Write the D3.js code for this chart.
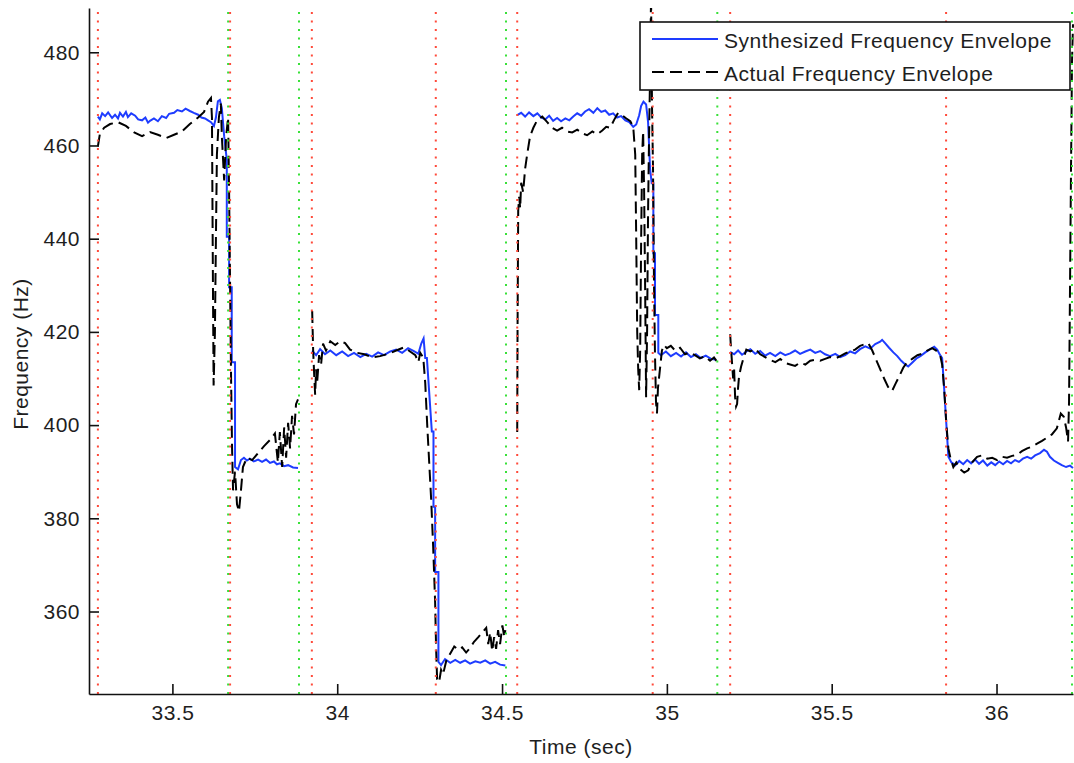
<!DOCTYPE html>
<html>
<head>
<meta charset="utf-8">
<script src="https://cdn.jsdelivr.net/npm/d3@7"></script>
<style>
  body { margin: 0; background: #fff; }
  text { font-family: "Liberation Sans", Arial, sans-serif; font-size: 21px; fill: #1e1e1e; letter-spacing: 0.5px; }
</style>
</head>
<body>
<script>
// axis ticks
var xTicks = [33.5, 34, 34.5, 35, 35.5, 36];
var xTickLabels = ["33.5", "34", "34.5", "35", "35.5", "36"];
var yTicks = [360, 380, 400, 420, 440, 460, 480];
var xDomain = [33.247, 36.232];
var yDomain = [342.3, 489.5];

// note boundaries (sec)
var onsets = [33.274, 33.675, 33.923, 34.299, 34.546, 34.957, 35.192, 35.847];
var offsets = [33.669, 33.884, 34.512, 35.153, 36.229];

// synthesized envelope, [time, Hz], one array per note group
var synth1 = [[33.274,466.2],[33.280,465.6],[33.287,466.9],[33.296,466.3],[33.305,467.1],[33.317,465.9],[33.326,466.6],
  [33.335,465.8],[33.341,467.0],[33.350,466.2],[33.359,467.2],[33.365,466.1],[33.375,466.9],[33.387,466.4],[33.396,465.6],
  [33.408,465.4],[33.418,466.0],[33.426,464.9],[33.432,465.3],[33.444,465.8],[33.456,465.2],[33.468,466.3],[33.481,465.9],
  [33.490,466.8],[33.505,467.0],[33.515,467.6],[33.529,467.3],[33.540,467.9],[33.553,467.4],[33.565,467.0],[33.578,466.6],
  [33.588,466.0],[33.599,465.8],[33.608,465.4],[33.617,465.0],[33.626,464.2],[33.632,466.0],[33.638,469.5],[33.644,469.8],
  [33.650,468.0],[33.657,462.0],[33.665,456.9],[33.665,440.4],[33.672,440.4],[33.672,429.6],[33.680,429.6],[33.680,413.5],
  [33.690,413.5],[33.690,391.0],[33.699,390.5],[33.708,392.5],[33.717,393.0],[33.726,392.4],[33.735,392.8],[33.747,392.2],
  [33.760,392.6],[33.772,392.1],[33.784,392.6],[33.796,391.9],[33.808,392.2],[33.817,391.6],[33.826,391.8],[33.839,391.2],
  [33.851,391.4],[33.866,390.9],[33.881,390.8]];
var synth2 = [[33.924,416.0],[33.936,415.0],[33.948,416.3],[33.963,415.2],[33.979,416.0],[33.997,415.0],[34.015,415.8],
  [34.033,414.8],[34.051,415.5],[34.070,414.6],[34.088,415.3],[34.106,414.7],[34.124,415.6],[34.142,415.0],[34.161,415.8],
  [34.179,416.2],[34.197,415.5],[34.215,416.5],[34.234,415.8],[34.246,415.3],[34.255,417.5],[34.262,418.6],[34.267,414.4],
  [34.272,414.4],[34.287,398.6],[34.292,398.6],[34.292,382.5],[34.297,382.5],[34.297,368.5],[34.307,368.5],[34.307,349.2],
  [34.315,348.5],[34.327,349.8],[34.343,349.0],[34.358,349.6],[34.373,349.0],[34.388,349.5],[34.403,348.8],[34.419,349.3],
  [34.434,349.0],[34.449,349.5],[34.464,348.8],[34.479,349.2],[34.494,348.6],[34.510,348.4]];
var synth3 = [[34.546,466.5],[34.558,467.0],[34.570,466.2],[34.582,467.1],[34.595,466.3],[34.607,466.9],[34.619,466.0],
  [34.631,465.6],[34.643,466.4],[34.655,465.3],[34.667,465.9],[34.679,465.2],[34.692,465.8],[34.704,465.4],[34.716,466.2],
  [34.728,466.9],[34.740,466.4],[34.752,467.3],[34.764,467.8],[34.777,467.0],[34.789,468.0],[34.801,467.2],[34.813,467.5],
  [34.825,466.6],[34.837,466.9],[34.849,466.0],[34.861,466.3],[34.874,465.4],[34.886,465.0],[34.898,464.0],[34.907,464.5],
  [34.916,466.5],[34.922,468.5],[34.929,469.4],[34.937,468.8],[34.943,465.0],[34.949,455.0],[34.954,451.9],[34.959,451.9],
  [34.959,436.9],[34.964,436.9],[34.964,423.6],[34.974,423.6],[34.974,415.5],[34.982,415.0],[34.997,415.8],[35.012,414.8],
  [35.028,415.5],[35.043,414.7],[35.058,415.6],[35.073,414.6],[35.088,415.2],[35.103,414.4],[35.118,414.9],[35.134,414.2],
  [35.149,414.0]];
var synth4 = [[35.192,415.7],[35.204,415.2],[35.216,416.0],[35.228,415.1],[35.241,415.8],[35.253,416.3],[35.268,415.3],
  [35.283,415.9],[35.298,414.9],[35.313,415.5],[35.329,414.8],[35.344,415.6],[35.359,415.0],[35.374,415.4],[35.389,416.0],
  [35.404,415.3],[35.420,415.8],[35.435,416.2],[35.450,415.5],[35.465,415.9],[35.480,415.2],[35.495,414.8],[35.511,415.3],
  [35.526,414.6],[35.541,415.0],[35.556,415.8],[35.571,415.4],[35.586,416.3],[35.602,416.9],[35.617,416.4],[35.632,417.4],
  [35.647,417.9],[35.653,418.3],[35.662,417.6],[35.674,416.6],[35.687,415.6],[35.699,414.8],[35.711,413.8],[35.723,413.0],
  [35.732,412.6],[35.744,413.4],[35.757,414.3],[35.769,414.8],[35.784,415.6],[35.799,416.3],[35.811,416.8],[35.820,416.2],
  [35.829,415.0],[35.835,414.4],[35.841,408.0],[35.848,400.0],[35.854,393.2],[35.863,392.0],[35.875,391.4],[35.887,392.3],
  [35.899,391.6],[35.911,392.5],[35.923,391.8],[35.935,392.6],[35.947,391.7],[35.959,392.4],[35.972,391.3],[35.984,392.0],
  [35.996,391.4],[36.008,392.2],[36.020,391.6],[36.032,392.3],[36.044,391.8],[36.056,392.5],[36.068,392.1],[36.080,392.8],
  [36.093,393.2],[36.105,392.8],[36.117,393.5],[36.132,394.0],[36.144,394.7],[36.153,394.3],[36.162,393.2],[36.174,392.4],
  [36.186,391.9],[36.198,391.4],[36.211,391.0],[36.223,391.3],[36.232,390.8]];

// actual envelope, [time, Hz]
var actual1 = [[33.274,459.8],[33.280,462.5],[33.293,463.8],[33.311,464.6],[33.335,465.0],[33.359,464.2],[33.384,462.8],
  [33.408,462.0],[33.432,462.9],[33.456,462.3],[33.481,461.6],[33.505,462.3],[33.529,463.0],[33.553,464.6],[33.578,466.0],
  [33.596,467.2],[33.608,469.4],[33.617,470.2],[33.620,466.0],[33.623,430.0],[33.625,408.5],[33.629,420.0],[33.632,440.0],
  [33.635,458.0],[33.641,466.0],[33.647,469.0],[33.650,462.0],[33.657,452.5],[33.663,462.0],[33.669,466.0],[33.672,450.0],
  [33.675,430.0],[33.678,410.0],[33.681,395.0],[33.684,386.0],[33.690,390.0],[33.696,383.0],[33.702,381.5],[33.708,386.0],
  [33.714,391.0],[33.726,393.0],[33.742,392.5],[33.760,394.0],[33.778,395.5],[33.796,396.8],[33.811,398.2],[33.820,392.0],
  [33.826,398.5],[33.833,391.0],[33.839,399.5],[33.845,393.0],[33.851,400.5],[33.857,395.0],[33.863,402.0],[33.869,398.0],
  [33.875,404.5],[33.881,405.5]];
var actual2 = [[33.924,424.5],[33.927,416.0],[33.930,411.0],[33.933,406.5],[33.936,412.0],[33.939,409.0],[33.945,415.0],
  [33.951,413.0],[33.957,417.5],[33.966,416.0],[33.979,418.0],[33.994,417.2],[34.009,418.0],[34.024,417.6],[34.039,416.2],
  [34.061,415.5],[34.082,415.2],[34.106,414.5],[34.130,414.8],[34.155,415.3],[34.179,416.0],[34.203,416.7],[34.221,415.8],
  [34.237,415.0],[34.246,413.5],[34.252,415.5],[34.261,414.5],[34.267,409.0],[34.273,400.0],[34.279,392.0],[34.285,384.0],
  [34.291,374.0],[34.297,362.0],[34.300,352.0],[34.303,345.5],[34.309,344.8],[34.315,347.5],[34.321,346.5],[34.331,349.5],
  [34.343,351.0],[34.355,352.5],[34.367,351.8],[34.379,352.3],[34.391,351.2],[34.403,352.2],[34.415,353.5],[34.428,354.5],
  [34.440,355.5],[34.452,356.5],[34.458,353.0],[34.464,355.5],[34.470,351.5],[34.476,354.5],[34.482,352.0],[34.488,356.0],
  [34.494,353.0],[34.501,357.0],[34.507,354.5],[34.510,356.0]];
var actual3 = [[34.546,398.5],[34.547,420.0],[34.549,446.0],[34.552,449.0],[34.555,446.5],[34.558,452.0],[34.564,450.0],
  [34.570,455.0],[34.576,458.0],[34.585,462.0],[34.595,463.8],[34.607,465.5],[34.622,466.2],[34.637,465.0],[34.652,463.8],
  [34.667,463.2],[34.682,463.8],[34.698,463.0],[34.713,462.8],[34.728,463.4],[34.743,462.6],[34.758,462.2],[34.774,463.0],
  [34.789,462.4],[34.804,463.2],[34.816,464.0],[34.828,463.8],[34.840,465.5],[34.852,467.0],[34.864,466.5],[34.877,465.8],
  [34.889,465.2],[34.898,464.0],[34.904,458.0],[34.907,440.0],[34.910,420.0],[34.913,412.0],[34.916,407.5],[34.919,416.0],
  [34.922,440.0],[34.925,458.0],[34.928,463.0],[34.931,450.0],[34.934,430.0],[34.937,406.0],[34.940,420.0],[34.943,446.0],
  [34.946,462.0],[34.949,475.0],[34.952,492.0],[34.955,468.0],[34.958,455.0],[34.961,430.0],[34.964,415.0],[34.967,405.0],
  [34.970,402.5],[34.973,408.0],[34.979,412.0],[34.985,416.0],[34.991,417.2],[35.000,416.5],[35.012,417.0],[35.025,416.0],
  [35.040,416.6],[35.055,415.2],[35.070,415.6],[35.085,415.0],[35.100,414.3],[35.115,414.8],[35.131,413.8],[35.143,414.5],
  [35.152,413.6]];
var actual4 = [[35.192,419.5],[35.195,416.0],[35.198,413.0],[35.201,410.0],[35.204,412.0],[35.207,406.0],[35.210,404.0],
  [35.213,404.5],[35.216,408.0],[35.219,410.5],[35.225,412.5],[35.231,414.0],[35.241,416.2],[35.253,415.8],[35.268,416.4],
  [35.283,415.2],[35.298,414.6],[35.313,414.0],[35.329,413.5],[35.344,414.2],[35.359,413.3],[35.374,413.0],[35.389,412.7],
  [35.404,413.4],[35.420,413.0],[35.435,413.8],[35.450,414.0],[35.465,413.8],[35.480,414.2],[35.495,414.6],[35.511,414.3],
  [35.526,414.8],[35.541,415.4],[35.556,415.8],[35.571,416.2],[35.586,417.0],[35.602,417.4],[35.611,417.6],[35.623,416.0],
  [35.635,414.0],[35.647,412.0],[35.659,410.0],[35.671,408.2],[35.683,407.3],[35.693,408.8],[35.705,410.5],[35.717,412.3],
  [35.729,413.5],[35.744,414.2],[35.760,415.0],[35.775,415.3],[35.790,416.0],[35.805,416.5],[35.817,416.0],[35.829,415.0],
  [35.835,413.0],[35.841,408.0],[35.848,400.0],[35.854,395.0],[35.860,393.0],[35.869,391.0],[35.878,392.0],[35.890,390.5],
  [35.902,389.8],[35.914,390.3],[35.926,392.0],[35.941,393.2],[35.956,393.5],[35.972,392.8],[35.987,393.0],[36.002,392.5],
  [36.017,393.2],[36.032,393.0],[36.047,393.4],[36.062,393.6],[36.077,394.4],[36.093,395.0],[36.108,395.4],[36.123,396.0],
  [36.138,396.6],[36.153,397.3],[36.168,398.0],[36.183,399.3],[36.195,402.5],[36.204,401.8],[36.211,399.5],[36.217,396.5],
  [36.220,405.0],[36.223,430.0],[36.226,455.0],[36.229,478.0],[36.232,486.0]];

var synth = [synth1, synth2, synth3, synth4];
var actual = [actual1, actual2, actual3, actual4];

var width = 1074;
var height = 763;
var margin = {left: 89, top: 8, right: 1, bottom: 69};

var x = d3.scaleLinear().domain(xDomain).range([margin.left, width - margin.right]);
var y = d3.scaleLinear().domain(yDomain).range([height - margin.bottom, margin.top]);

var svg = d3.select("body").append("svg")
  .attr("width", width)
  .attr("height", height);

svg.append("rect").attr("width", width).attr("height", height).attr("fill", "#fff");

svg.append("clipPath").attr("id", "plot")
  .append("rect")
  .attr("x", margin.left)
  .attr("y", margin.top)
  .attr("width", width - margin.left - margin.right + 1)
  .attr("height", height - margin.top - margin.bottom);

var line = d3.line()
  .x(function(d) { return x(d[0]); })
  .y(function(d) { return y(d[1]); });

var plot = svg.append("g").attr("clip-path", "url(#plot)");

plot.selectAll(".synth")
  .data(synth)
  .enter()
  .append("path")
  .attr("class", "synth")
  .attr("d", line)
  .attr("fill", "none")
  .attr("stroke", "#1e3cff")
  .attr("stroke-width", 2);

plot.selectAll(".actual")
  .data(actual)
  .enter()
  .append("path")
  .attr("class", "actual")
  .attr("d", line)
  .attr("fill", "none")
  .attr("stroke", "#000")
  .attr("stroke-width", 2)
  .attr("stroke-dasharray", "12,6");

// dotted note markers
function markers(times, colour) {
  plot.selectAll(null)
    .data(times)
    .enter()
    .append("line")
    .attr("x1", function(d) { return x(d); })
    .attr("x2", function(d) { return x(d); })
    .attr("y1", margin.top + 4)
    .attr("y2", height - margin.bottom)
    .attr("stroke", colour)
    .attr("stroke-width", 2)
    .attr("stroke-dasharray", "2,6.5");
}
markers(offsets, "#38e038");
markers(onsets, "#ff4a3a");

// axes
var axisBottom = d3.axisBottom(x)
  .tickValues(xTicks)
  .tickFormat(function(d, i) { return xTickLabels[i]; })
  .tickSizeInner(-10)
  .tickSizeOuter(0)
  .tickPadding(11);

var axisLeft = d3.axisLeft(y)
  .tickValues(yTicks)
  .tickSizeInner(-10)
  .tickSizeOuter(0)
  .tickPadding(9);

var gx = svg.append("g")
  .attr("transform", "translate(0," + (height - margin.bottom) + ")")
  .call(axisBottom);

var gy = svg.append("g")
  .attr("transform", "translate(" + margin.left + ",0)")
  .call(axisLeft);

[gx, gy].forEach(function(g) {
  g.attr("font-size", null).attr("font-family", null);
  g.selectAll("path, line").attr("stroke", "#111").attr("stroke-width", 1.6);
  g.selectAll("text").attr("fill", "#1e1e1e");
});

// axis titles
svg.append("text")
  .attr("x", (margin.left + width - margin.right) / 2)
  .attr("y", 754)
  .style("text-anchor", "middle")
  .text("Time (sec)");

svg.append("text")
  .attr("transform", "translate(28,354) rotate(-90)")
  .style("text-anchor", "middle")
  .text("Frequency (Hz)");

// legend
var legend = svg.append("g");
legend.append("rect")
  .attr("x", 640).attr("y", 22)
  .attr("width", 430).attr("height", 68)
  .attr("fill", "#fff")
  .attr("stroke", "#111")
  .attr("stroke-width", 1.6);

var legendItems = [
  {label: "Synthesized Frequency Envelope", colour: "#1e3cff", dash: null},
  {label: "Actual Frequency Envelope", colour: "#000", dash: "12,6"}
];

legendItems.forEach(function(item, i) {
  var ly = 39 + i * 33;
  legend.append("line")
    .attr("x1", 652).attr("x2", 718)
    .attr("y1", ly).attr("y2", ly)
    .attr("stroke", item.colour)
    .attr("stroke-width", 2)
    .attr("stroke-dasharray", item.dash);
  legend.append("text")
    .attr("x", 724)
    .attr("y", ly + 9)
    .text(item.label);
});
</script>
</body>
</html>
